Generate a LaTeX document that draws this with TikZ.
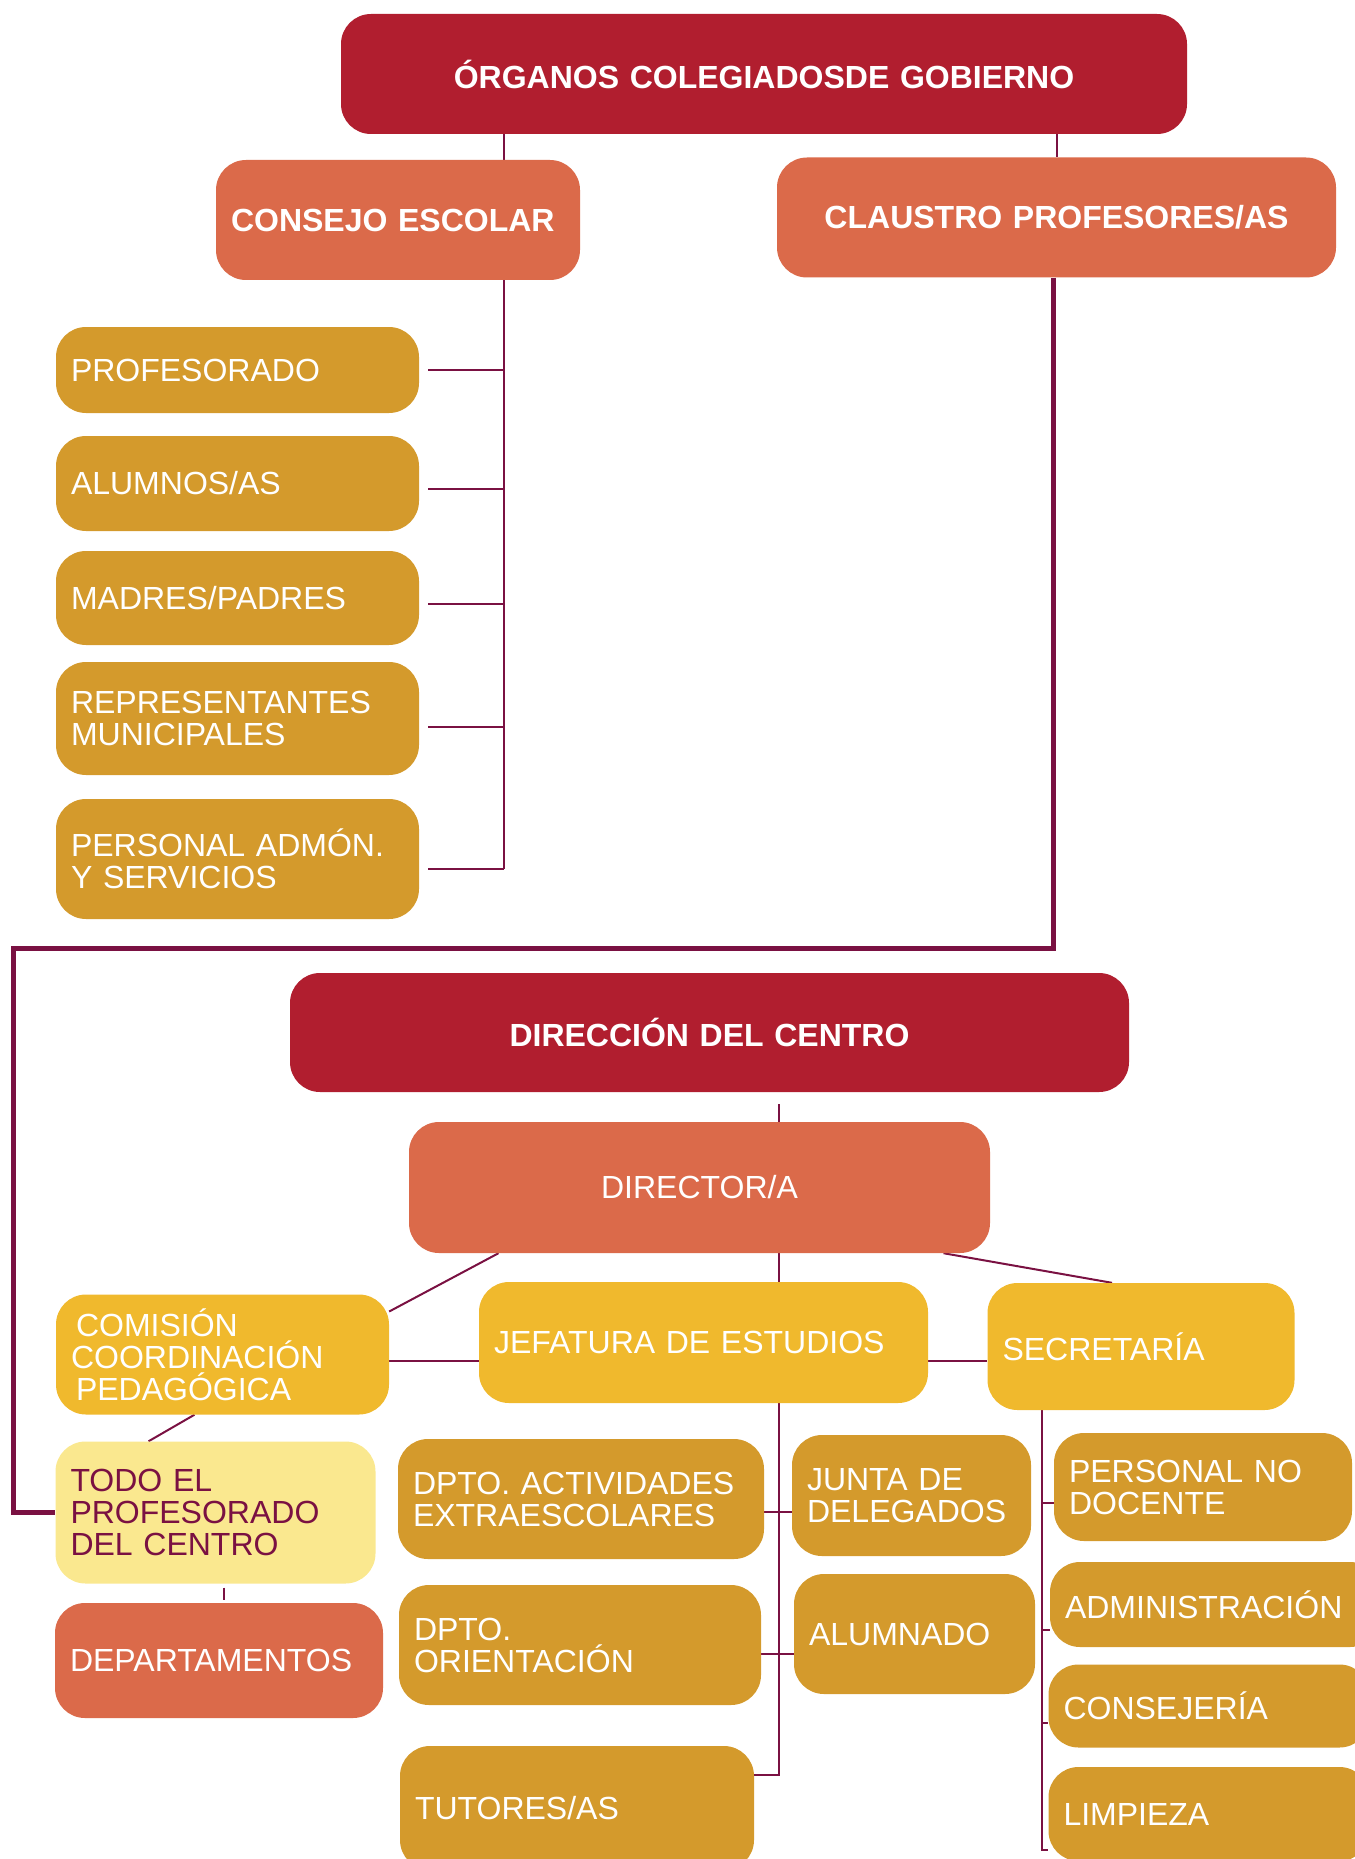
\documentclass[tikz,border=0pt]{standalone}
\usepackage{fontspec}
\setmainfont{Liberation Sans}
\pgfdeclarelayer{bg}
\pgfsetlayers{bg,main}
\definecolor{granate}{HTML}{B11E2F}
\definecolor{teja}{HTML}{DB6A4A}
\definecolor{ocre}{HTML}{D49A2C}
\definecolor{oro}{HTML}{F0B92D}
\definecolor{crema}{HTML}{FAE88F}
\definecolor{vino}{HTML}{7A1142}
\tikzset{
    every node/.style={rectangle, rounded corners=30pt, inner xsep=15pt, inner ysep=0pt, text=white, align=left, font=\fontsize{32}{32}\selectfont}
}
\tikzset{gob/.style={fill=granate, align=center, font=\fontsize{32}{32}\selectfont\bfseries},
    negrita/.style={font=\fontsize{32}{32}\selectfont\bfseries},
    organo/.style={fill=teja}, miembro/.style={fill=ocre}, cargo/.style={fill=oro},
    todos/.style={fill=crema, text=vino}}
\tikzset{linea/.style={draw=vino, line width=2pt}, lineagruesa/.style={draw=vino, line width=5pt}}

\begin{document}
\begin{tikzpicture}[x=1pt, y=-1pt]
        \useasboundingbox (0, 0) rectangle (1354, 1859);
        \node (org) [gob, text width=816pt, minimum height=120pt] at (764, 74) {ÓRGANOS COLEGIADOSDE GOBIERNO};
        \node (consejo) [organo, negrita, text width=334pt, minimum height=120pt] at (398, 220) {CONSEJO ESCOLAR};
        \node (claustro) [organo, negrita, align=center, text width=529pt, minimum height=120pt] at (1056.5, 217.5) {CLAUSTRO PROFESORES/AS};
        \node (prof) [miembro, text width=333pt, minimum height=86pt] at (237.5, 370) {PROFESORADO};
        \node (alum) [miembro, text width=333pt, minimum height=95pt] at (237.5, 483.5) {ALUMNOS/AS};
        \node (madres) [miembro, text width=333pt, minimum height=94pt] at (237.5, 598) {MADRES/PADRES};
        \node (repr) [miembro, text width=333pt, minimum height=113pt] at (237.5, 718.5) {REPRESENTANTES\\MUNICIPALES};
        \node (pas) [miembro, text width=333pt, minimum height=120pt] at (237.5, 859) {PERSONAL ADMÓN.\\Y SERVICIOS};
        \node (direccion) [gob, text width=809pt, minimum height=119pt] at (709.5, 1032.5) {DIRECCIÓN DEL CENTRO};
        \node (director) [organo, align=center, text width=551pt, minimum height=131pt] at (699.5, 1187.5) {DIRECTOR/A};
        \node (ccp) [cargo, text width=303pt, minimum height=120pt] at (222.5, 1354.5) {\hspace*{5pt}COMISIÓN\\COORDINACIÓN\\\hspace*{5pt}PEDAGÓGICA};
        \node (jefatura) [cargo, text width=419pt, minimum height=121pt] at (703.5, 1342.5) {JEFATURA DE ESTUDIOS};
        \node (secretaria) [cargo, text width=277pt, minimum height=127pt] at (1141, 1346.5) {SECRETARÍA};
        \node (todoprof) [todos, text width=290pt, minimum height=142pt] at (215.5, 1512.5) {TODO EL\\PROFESORADO\\DEL CENTRO};
        \node (dptos) [organo, text width=298pt, minimum height=115pt] at (219, 1660.5) {DEPARTAMENTOS};
        \node (extraesc) [miembro, text width=336pt, minimum height=120pt] at (581, 1499) {DPTO. ACTIVIDADES\\EXTRAESCOLARES};
        \node (junta) [miembro, text width=209pt, minimum height=121pt] at (911.5, 1495.5) {JUNTA DE\\DELEGADOS};
        \node (orient) [miembro, text width=332pt, minimum height=120pt] at (580, 1645) {DPTO.\\ORIENTACIÓN};
        \node (alumnado) [miembro, text width=211pt, minimum height=120pt] at (914.5, 1634) {ALUMNADO};
        \node (tutores) [miembro, text width=324pt, minimum height=124pt] at (577, 1808) {TUTORES/AS};
        \node (nodoc) [miembro, text width=268pt, minimum height=108pt] at (1203, 1487) {PERSONAL NO\\DOCENTE};
        \node (admin) [miembro, text width=300pt, minimum height=85pt] at (1215, 1604.5) {ADMINISTRACIÓN};
        \node (conserj) [miembro, text width=291pt, minimum height=83pt] at (1209, 1706) {CONSEJERÍA};
        \node (limpieza) [miembro, text width=291pt, minimum height=94pt] at (1209, 1814) {LIMPIEZA};
        \coordinate (cbus) at (504, 869);
        \coordinate (esq) at (13, 948);
        \coordinate (jbus) at (779, 1775);
        \coordinate (sbus) at (1042, 1850);
        \begin{pgfonlayer}{bg}
                \draw [linea] (org.south -| cbus) -- (cbus);
                \draw [linea] (claustro.north |- org.south) -- (claustro.north);
                \draw [lineagruesa] ([xshift=-3pt]claustro.south) |- (esq) |- (todoprof.west);
                \draw [linea, shorten <=9pt] (prof.east) -- (prof.east -| cbus);
                \draw [linea, shorten <=9pt] ([yshift=-5pt]alum.east) -- ([yshift=-5pt]alum.east -| cbus);
                \draw [linea, shorten <=9pt] ([yshift=-6pt]madres.east) -- ([yshift=-6pt]madres.east -| cbus);
                \draw [linea, shorten <=9pt] ([yshift=-8pt]repr.east) -- ([yshift=-8pt]repr.east -| cbus);
                \draw [linea, shorten <=9pt] (pas.east |- cbus) -- (cbus);
                \draw [linea, shorten <=12pt] (direccion.south -| jbus) -- (jbus) -- (tutores.east |- jbus);
                \draw ([xshift=-201pt]director.south) edge [linea] ([yshift=43pt]ccp.east);
                \draw ([xshift=244pt]director.south) edge [linea] ([xshift=-29pt]secretaria.north);
                \draw ([yshift=-6.5pt]ccp.east) edge [linea] ([yshift=-6.5pt]ccp.east -| secretaria.west);
                \draw ([xshift=-28pt]ccp.south) edge [linea] ([xshift=-67pt]todoprof.north);
                \draw [linea, shorten <=4pt, shorten >=3pt] ([xshift=8pt]todoprof.south) -- ([xshift=8pt]todoprof.south |- dptos.north);
                \draw ([yshift=-13pt]extraesc.east) edge [linea] ([yshift=-13pt]extraesc.east -| junta.west);
                \draw ([yshift=-9pt]orient.east) edge [linea] ([yshift=-9pt]orient.east -| alumnado.west);
                \draw [linea] (secretaria.south -| sbus) -- (sbus) -- (sbus -| limpieza.west);
                \draw ([yshift=-16pt]nodoc.west -| sbus) edge [linea] ([yshift=-16pt]nodoc.west);
                \draw ([yshift=-25pt]admin.west -| sbus) edge [linea] ([yshift=-25pt]admin.west);
                \draw ([yshift=-17pt]conserj.west -| sbus) edge [linea] ([yshift=-17pt]conserj.west);
        \end{pgfonlayer}
\end{tikzpicture}
\end{document}
